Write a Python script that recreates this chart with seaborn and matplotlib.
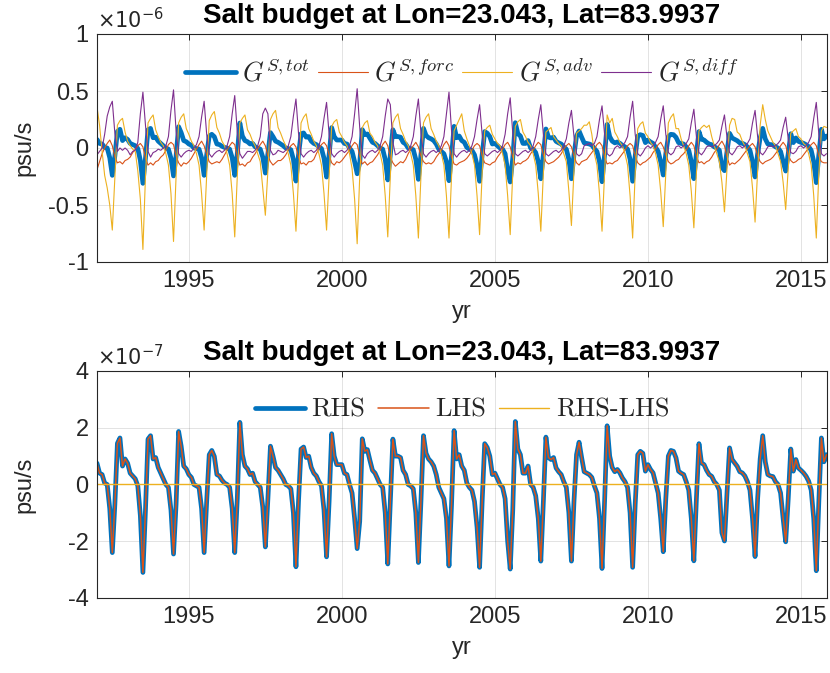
import numpy as np
import pandas as pd
import seaborn as sns
import matplotlib
matplotlib.use("Agg")
import matplotlib.pyplot as plt
from matplotlib.ticker import FuncFormatter

# monthly values, one row per year (Jan..Dec), 1992 - Nov 2015
# total tendency G^{S,tot} (= RHS), units 1e-7 psu/s
g_tot = [
    0.75, 0.40, 0.35, 0.05, 0.00, -0.85, -2.40, -0.70, 1.45, 1.64, 0.65, 0.90,   # 1992
    0.75, 0.40, 0.30, 0.20, -0.05, -1.10, -3.10, -0.90, 1.60, 1.72, 0.90, 0.95,  # 1993
    0.60, 0.40, 0.20, 0.00, -0.10, -0.90, -2.45, -0.70, 1.87, 1.35, 0.65, 0.55,  # 1994
    0.35, 0.25, 0.00, -0.05, -0.10, -0.85, -2.40, -0.60, 1.05, 1.20, 0.99, 0.35, # 1995
    0.30, 0.15, 0.05, 0.00, -0.10, -0.85, -2.40, -0.50, 2.19, 1.05, 0.65, 0.55,  # 1996
    0.35, 0.40, 0.10, 0.00, -0.10, -0.80, -2.20, -0.50, 1.35, 1.00, 0.60, 0.50,  # 1997
    0.35, 0.20, 0.00, -0.05, -0.15, -1.00, -2.90, -0.60, 1.25, 1.32, 0.95, 1.00, # 1998
    0.60, 0.40, 0.30, 0.10, -0.05, -0.90, -2.55, -0.60, 1.79, 1.00, 0.70, 0.70,  # 1999
    0.70, 0.40, 0.35, 0.00, -0.30, -1.20, -2.26, -1.30, 1.61, 1.17, 1.23, 0.85,  # 2000
    0.50, 0.40, 0.20, 0.00, -0.10, -1.00, -2.80, -0.60, 1.60, 1.00, 1.00, 0.95,  # 2001
    0.50, 0.35, 0.00, -0.05, -0.15, -1.00, -2.75, -0.60, 1.72, 1.10, 0.90, 0.80, # 2002
    0.65, 0.35, -0.10, -0.30, -0.50, -1.20, -2.87, -0.70, 1.90, 0.90, 1.05, 0.65, # 2003
    0.50, 0.05, -0.10, -0.20, -0.60, -1.50, -2.92, -0.60, 1.44, 1.30, 1.00, 0.35, # 2004
    0.40, 0.20, 0.00, -0.10, -0.50, -2.00, -2.98, -0.90, 2.22, 1.25, 1.05, 0.40, # 2005
    0.40, 0.65, 0.00, -0.10, -0.40, -1.20, -2.70, -0.60, 1.67, 0.95, 0.88, 0.95, # 2006
    0.58, 0.45, 0.35, 0.10, -0.10, -1.00, -2.70, -0.60, 1.05, 1.49, 0.95, 0.45,  # 2007
    0.40, 0.35, 0.25, -0.05, -0.30, -1.20, -2.96, -0.60, 2.07, 1.00, 0.60, 0.45, # 2008
    0.53, 0.41, 0.23, 0.10, -0.10, -1.00, -2.92, -0.70, 1.05, 1.17, 1.10, 0.47,  # 2009
    0.70, 0.53, 0.41, 0.06, -0.30, -1.20, -2.37, -0.50, 1.00, 1.20, 1.17, 0.94,  # 2010
    0.47, 0.40, 0.35, 0.10, -0.20, -1.20, -2.69, -0.50, 1.44, 0.76, 0.70, 0.50,  # 2011
    0.35, 0.29, 0.10, 0.00, -0.20, -1.70, -1.99, -0.30, 1.29, 0.88, 0.76, 0.64,  # 2012
    0.45, 0.41, 0.30, 0.10, -0.20, -1.20, -2.54, -0.50, 0.90, 1.72, 0.80, 0.35,  # 2013
    0.30, 0.28, 0.10, 0.00, -0.30, -1.20, -2.02, -0.50, 1.25, 0.47, 0.88, 0.58,  # 2014
    0.50, 0.41, 0.29, 0.12, -0.20, -1.20, -3.04, -0.60, 1.64, 0.80, 1.05,        # 2015
]

# forcing term G^{S,forc}, units 1e-6 psu/s
g_forc = [
    -0.19, -0.12, -0.05, 0.00, 0.04, 0.07, 0.02, -0.08, -0.13, -0.12, -0.14, -0.11,
    -0.10, -0.08, -0.04, -0.01, 0.02, 0.04, 0.01, -0.09, -0.15, -0.13, -0.15, -0.12,
    -0.11, -0.08, -0.06, -0.02, 0.03, 0.05, 0.03, -0.07, -0.13, -0.16, -0.13, -0.14,
    -0.12, -0.09, -0.05, -0.01, 0.03, 0.06, 0.02, -0.06, -0.12, -0.14, -0.13, -0.12,
    -0.13, -0.10, -0.06, -0.02, 0.02, 0.05, 0.03, -0.08, -0.15, -0.14, -0.16, -0.13,
    -0.12, -0.08, -0.05, -0.01, 0.03, 0.06, 0.02, -0.07, -0.12, -0.15, -0.13, -0.11,
    -0.11, -0.09, -0.06, -0.02, 0.02, 0.04, 0.01, -0.08, -0.14, -0.13, -0.15, -0.12,
    -0.12, -0.10, -0.05, -0.01, 0.03, 0.05, 0.02, -0.06, -0.13, -0.15, -0.12, -0.13,
    -0.11, -0.08, -0.05, -0.02, 0.02, 0.05, 0.03, -0.07, -0.14, -0.12, -0.15, -0.13,
    -0.12, -0.09, -0.06, -0.02, 0.03, 0.06, 0.02, -0.08, -0.13, -0.16, -0.14, -0.12,
    -0.13, -0.10, -0.05, -0.01, 0.02, 0.05, 0.01, -0.07, -0.12, -0.14, -0.13, -0.14,
    -0.12, -0.08, -0.05, -0.02, 0.03, 0.06, 0.02, -0.08, -0.14, -0.15, -0.13, -0.12,
    -0.11, -0.09, -0.06, -0.02, 0.02, 0.04, 0.02, -0.07, -0.13, -0.14, -0.15, -0.13,
    -0.12, -0.08, -0.05, -0.01, 0.03, 0.05, 0.01, -0.08, -0.15, -0.13, -0.14, -0.12,
    -0.11, -0.09, -0.05, -0.02, 0.02, 0.05, 0.03, -0.06, -0.12, -0.14, -0.13, -0.12,
    -0.10, -0.08, -0.05, -0.01, 0.02, 0.04, 0.01, -0.07, -0.13, -0.15, -0.12, -0.11,
    -0.10, -0.07, -0.04, -0.01, 0.03, 0.05, 0.02, -0.08, -0.14, -0.13, -0.14, -0.12,
    -0.11, -0.08, -0.05, -0.02, 0.02, 0.04, 0.02, -0.07, -0.13, -0.15, -0.13, -0.12,
    -0.10, -0.08, -0.04, -0.01, 0.03, 0.05, 0.01, -0.06, -0.12, -0.14, -0.13, -0.11,
    -0.10, -0.07, -0.05, -0.02, 0.02, 0.05, 0.02, -0.07, -0.13, -0.12, -0.14, -0.12,
    -0.11, -0.08, -0.04, -0.01, 0.03, 0.06, 0.02, -0.08, -0.15, -0.13, -0.14, -0.12,
    -0.10, -0.07, -0.04, -0.01, 0.02, 0.04, 0.01, -0.07, -0.12, -0.14, -0.12, -0.11,
    -0.10, -0.08, -0.05, -0.02, 0.02, 0.05, 0.02, -0.06, -0.11, -0.13, -0.12, -0.10,
    -0.09, -0.06, -0.03, 0.00, 0.03, 0.05, 0.02, -0.07, -0.12, -0.13, -0.13,
]

# advection term G^{S,adv}, units 1e-6 psu/s
g_adv = [
    0.36, 0.20, -0.03, -0.24, -0.35, -0.50, -0.72, -0.25, 0.20, 0.24, 0.26, 0.14,
    0.06, 0.02, -0.01, -0.03, -0.20, -0.45, -0.89, -0.25, 0.22, 0.26, 0.29, 0.16,
    0.10, 0.05, 0.02, -0.05, -0.15, -0.40, -0.82, -0.25, 0.22, 0.27, 0.30, 0.17,
    0.12, 0.06, 0.02, -0.05, -0.15, -0.40, -0.72, -0.25, 0.24, 0.29, 0.32, 0.18,
    0.13, 0.06, 0.02, -0.05, -0.15, -0.40, -0.78, -0.25, 0.22, 0.26, 0.29, 0.16,
    0.12, 0.06, 0.02, -0.05, -0.12, -0.35, -0.59, -0.20, 0.25, 0.30, 0.33, 0.18,
    0.13, 0.07, 0.02, -0.05, -0.15, -0.40, -0.73, -0.25, 0.22, 0.27, 0.30, 0.17,
    0.12, 0.06, 0.02, -0.05, -0.15, -0.40, -0.72, -0.25, 0.19, 0.23, 0.25, 0.14,
    0.10, 0.05, 0.02, -0.05, -0.18, -0.45, -0.84, -0.25, 0.18, 0.22, 0.24, 0.13,
    0.10, 0.05, 0.02, -0.05, -0.15, -0.42, -0.78, -0.25, 0.22, 0.27, 0.30, 0.17,
    0.12, 0.06, 0.02, -0.05, -0.15, -0.42, -0.79, -0.25, 0.22, 0.27, 0.30, 0.17,
    0.12, 0.06, 0.02, -0.05, -0.15, -0.42, -0.79, -0.25, 0.15, 0.20, 0.25, 0.30,
    0.15, 0.08, 0.02, -0.05, -0.15, -0.42, -0.76, -0.22, 0.15, 0.18, 0.20, 0.12,
    0.08, 0.04, 0.02, -0.05, -0.15, -0.42, -0.76, -0.22, 0.19, 0.23, 0.25, 0.14,
    0.10, 0.05, 0.02, -0.05, -0.15, -0.40, -0.73, -0.22, 0.14, 0.16, 0.18, 0.10,
    0.07, 0.04, 0.02, -0.05, -0.12, -0.38, -0.68, -0.20, 0.13, 0.15, 0.17, 0.20,
    0.20, 0.23, 0.12, -0.05, -0.15, -0.40, -0.73, -0.22, 0.29, 0.22, 0.26, 0.14,
    0.10, 0.05, 0.02, -0.05, -0.15, -0.42, -0.79, -0.22, 0.17, 0.21, 0.23, 0.13,
    0.10, 0.05, 0.02, -0.05, -0.15, -0.38, -0.69, -0.22, 0.22, 0.27, 0.30, 0.17,
    0.17, 0.08, 0.02, -0.05, -0.15, -0.38, -0.70, -0.22, 0.15, 0.18, 0.20, 0.18,
    0.20, 0.10, 0.02, -0.05, -0.12, -0.30, -0.56, -0.18, 0.20, 0.26, 0.25, 0.14,
    0.12, 0.06, 0.02, -0.05, -0.12, -0.35, -0.65, -0.20, 0.20, 0.38, 0.25, 0.15,
    0.10, 0.05, 0.02, -0.05, -0.12, -0.30, -0.54, -0.18, 0.13, 0.15, 0.17, 0.10,
    0.08, 0.04, 0.02, -0.05, -0.15, -0.42, -0.79, -0.22, 0.15, 0.19, 0.18,
]

# diffusion term G^{S,diff}, units 1e-6 psu/s
g_diff = [
    -0.06, -0.03, 0.00, 0.12, 0.28, 0.36, 0.41, 0.13, -0.03, 0.00, -0.02, 0.00,
    -0.02, -0.06, -0.03, -0.02, 0.05, 0.30, 0.49, 0.20, -0.03, -0.08, -0.04, -0.03,
    -0.01, -0.02, 0.00, 0.02, 0.10, 0.33, 0.51, 0.15, -0.05, -0.08, -0.05, -0.03,
    -0.02, -0.03, 0.00, 0.03, 0.10, 0.27, 0.41, 0.12, -0.05, -0.08, -0.05, -0.03,
    -0.02, -0.04, -0.02, 0.02, 0.10, 0.30, 0.46, 0.14, -0.05, -0.09, -0.06, -0.03,
    -0.03, -0.04, -0.02, 0.02, 0.10, 0.30, 0.35, 0.30, -0.02, -0.06, -0.05, -0.02,
    -0.03, -0.04, -0.02, 0.02, 0.10, 0.28, 0.43, 0.13, -0.05, -0.08, -0.05, -0.03,
    -0.02, -0.04, -0.02, 0.02, 0.10, 0.26, 0.40, 0.12, -0.05, -0.08, -0.05, -0.03,
    -0.02, -0.04, -0.02, 0.02, 0.10, 0.30, 0.52, 0.18, -0.06, -0.09, -0.05, -0.03,
    -0.02, -0.04, -0.02, 0.02, 0.10, 0.28, 0.43, 0.38, 0.05, -0.06, -0.05, -0.03,
    -0.02, -0.04, -0.02, 0.02, 0.10, 0.28, 0.43, 0.13, -0.05, -0.08, -0.05, -0.03,
    -0.02, -0.04, -0.02, 0.02, 0.10, 0.30, 0.49, 0.15, -0.05, -0.08, -0.05, -0.03,
    -0.02, -0.04, -0.02, 0.02, 0.10, 0.25, 0.38, 0.12, -0.05, -0.07, -0.05, -0.03,
    -0.02, -0.04, -0.02, 0.02, 0.12, 0.30, 0.44, 0.13, -0.05, -0.07, -0.05, -0.03,
    -0.02, -0.04, -0.02, 0.02, 0.10, 0.25, 0.38, 0.12, -0.05, -0.07, -0.05, -0.03,
    -0.02, -0.04, -0.02, 0.02, 0.08, 0.22, 0.33, 0.10, -0.05, -0.07, -0.05, 0.02,
    0.03, 0.04, 0.02, 0.04, 0.10, 0.25, 0.37, 0.12, -0.05, -0.07, -0.05, 0.00,
    0.02, 0.00, 0.02, 0.05, 0.10, 0.27, 0.41, 0.12, -0.05, -0.07, -0.04, 0.00,
    0.02, 0.00, 0.02, 0.05, 0.10, 0.25, 0.37, 0.12, -0.04, -0.06, -0.04, 0.01,
    0.02, 0.00, 0.02, 0.04, 0.08, 0.22, 0.34, 0.10, -0.04, -0.06, -0.03, 0.01,
    0.02, 0.01, 0.02, 0.04, 0.07, 0.19, 0.29, 0.09, -0.04, -0.06, -0.03, 0.01,
    0.02, 0.00, 0.02, 0.04, 0.08, 0.22, 0.33, 0.10, -0.04, -0.06, -0.03, 0.01,
    0.02, 0.01, 0.02, 0.04, 0.07, 0.18, 0.27, 0.08, -0.04, -0.05, -0.03, 0.01,
    0.02, 0.00, 0.02, 0.05, 0.10, 0.26, 0.40, 0.12, -0.05, -0.07, -0.05,
]

title = "Salt budget at Lon=23.043, Lat=83.9937"
year_ticks = [1995, 2000, 2005, 2010, 2015]

yr = 1992 + np.arange(len(g_tot)) / 12.0
tot = np.array(g_tot) * 1e-7
rhs = tot
lhs = tot.copy()
df = pd.DataFrame({
    "yr": yr,
    "tot": tot,
    "forc": np.array(g_forc) * 1e-6,
    "adv": np.array(g_adv) * 1e-6,
    "diff": np.array(g_diff) * 1e-6,
    "rhs": rhs,
    "lhs": lhs,
    "res": rhs - lhs,
})

sns.set_theme(style="white")
plt.rcParams["font.family"] = ["Liberation Sans", "DejaVu Sans"]
plt.rcParams["mathtext.fontset"] = "cm"
plt.rcParams["axes.unicode_minus"] = False

blue, red, yellow, purple = "#0072BD", "#D95319", "#EDB120", "#7E2F8E"
dark = "#262626"

fig = plt.figure(figsize=(8.3, 6.73), dpi=100)
ax1 = fig.add_axes([97 / 830, 1 - 262 / 673, 730 / 830, 228 / 673])
ax2 = fig.add_axes([97 / 830, 1 - 598 / 673, 730 / 830, 227 / 673])

top_series = [("tot", blue, 3.4, r"$G^{S,tot}$"),
              ("forc", red, 0.8, r"$G^{S,forc}$"),
              ("adv", yellow, 0.8, r"$G^{S,adv}$"),
              ("diff", purple, 0.8, r"$G^{S,diff}$")]
for col, c, lw, lab in top_series:
    sns.lineplot(data=df, x="yr", y=col, ax=ax1, color=c, linewidth=lw,
                 label=lab, estimator=None, sort=False)

bot_series = [("rhs", blue, 3.4, "RHS"),
              ("lhs", red, 1.1, "LHS"),
              ("res", yellow, 1.0, "RHS-LHS")]
for col, c, lw, lab in bot_series:
    sns.lineplot(data=df, x="yr", y=col, ax=ax2, color=c, linewidth=lw,
                 label=lab, estimator=None, sort=False)


def style(ax, lim, step, scale, expo):
    ax.set_xlim(1992, 2015.85)
    ax.set_xticks(year_ticks)
    ax.xaxis.set_major_formatter(FuncFormatter(lambda v, p: f"{v:.0f}"))
    ax.set_ylim(-lim, lim)
    ax.set_yticks(np.arange(-lim, lim + step / 2, step))
    ax.yaxis.set_major_formatter(FuncFormatter(lambda v, p: f"{round(v / scale, 3):g}"))
    ax.grid(True, color=dark, alpha=0.15, linewidth=0.6)
    ax.set_axisbelow(True)
    for s in ax.spines.values():
        s.set_visible(True)
        s.set_color(dark)
        s.set_linewidth(0.8)
    ax.tick_params(direction="in", top=True, right=True, length=4.5, width=0.7,
                   colors=dark, labelsize=17, pad=6)
    ax.set_title(title, fontweight="bold", fontsize=20, color="black", pad=8)
    ax.set_xlabel("yr", fontsize=17, color=dark)
    ax.set_ylabel("psu/s", fontsize=17, color=dark)
    ax.xaxis.set_label_coords(0.5, -0.17)
    ax.yaxis.set_label_coords(-0.085, 0.5)
    ax.text(0.0, 1.01, r"$\times10^{%d}$" % expo, transform=ax.transAxes,
            ha="left", va="bottom", fontsize=15, color=dark,
            math_fontfamily="dejavusans")


style(ax1, 1e-6, 0.5e-6, 1e-6, -6)
style(ax2, 4e-7, 2e-7, 1e-7, -7)

ax1.legend(loc="center", bbox_to_anchor=(0.5, 0.833), ncol=4, frameon=False,
           fontsize=19, handlelength=1.9, handletextpad=0.25, columnspacing=0.3,
           borderaxespad=0)
ax2.legend(loc="center", bbox_to_anchor=(0.5, 0.828), ncol=3, frameon=False,
           prop={"family": "cmr10", "size": 19}, handlelength=1.9,
           handletextpad=0.25, columnspacing=0.5, borderaxespad=0)

fig.savefig("out.png", dpi=100)
